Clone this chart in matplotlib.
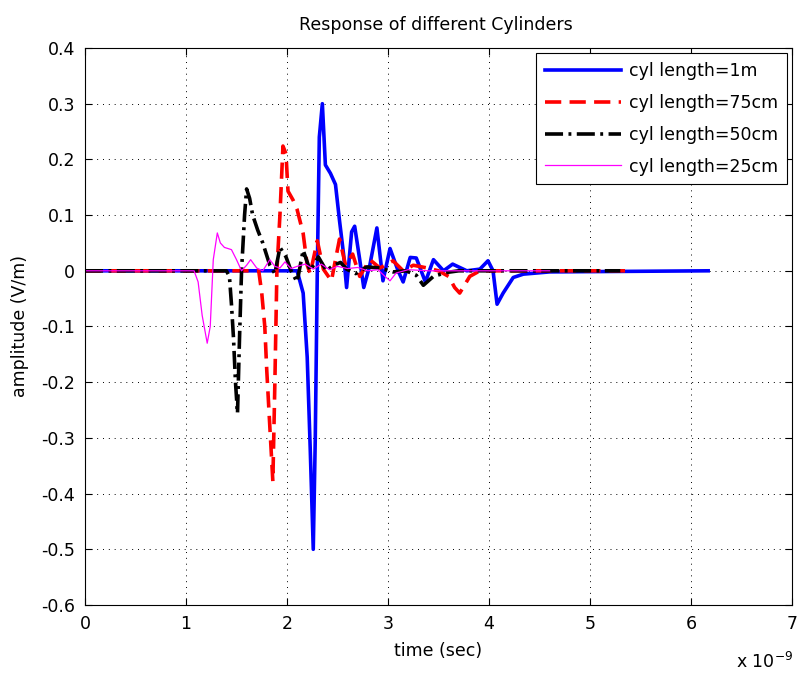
import numpy as np
import matplotlib.pyplot as plt

# time in ns (axis shown as x 10^-9 sec)
t_1m = [0, 2.10, 2.16, 2.20, 2.23, 2.26, 2.28, 2.30, 2.32, 2.35, 2.38, 2.43, 2.48,
        2.52, 2.56, 2.59, 2.64, 2.67, 2.72, 2.76, 2.82, 2.89, 2.95, 3.02, 3.10,
        3.15, 3.22, 3.28, 3.37, 3.45, 3.55, 3.64, 3.78, 3.91, 3.99, 4.04, 4.08,
        4.14, 4.24, 4.34, 4.60, 6.17]
a_1m = [0, 0, -0.04, -0.155, -0.32, -0.50, -0.30, 0.0, 0.24, 0.30, 0.19, 0.175,
        0.155, 0.09, 0.03, -0.03, 0.07, 0.08, 0.02, -0.03, 0.01, 0.077, -0.018,
        0.04, 0.0, -0.02, 0.024, 0.023, -0.02, 0.02, 0.0, 0.012, 0.0, 0.003,
        0.018, 0.0, -0.06, -0.04, -0.012, -0.006, -0.002, 0.0]

t_75 = [0, 1.72, 1.75, 1.78, 1.80, 1.83, 1.86, 1.88, 1.90, 1.93, 1.96, 1.99, 2.01,
        2.06, 2.10, 2.16, 2.20, 2.23, 2.30, 2.36, 2.44, 2.48, 2.52, 2.58, 2.65,
        2.72, 2.82, 2.92, 3.05, 3.15, 3.25, 3.39, 3.50, 3.60, 3.66, 3.71, 3.76,
        3.81, 3.91, 4.05, 5.40]
a_75 = [0, 0, -0.04, -0.10, -0.18, -0.28, -0.378, -0.2, 0.0, 0.1, 0.224, 0.21,
        0.143, 0.127, 0.11, 0.067, 0.01, -0.005, 0.054, 0.003, -0.018, 0.02,
        0.057, 0.01, 0.03, -0.01, 0.02, 0.005, 0.018, 0.0, 0.01, 0.005, 0.0,
        -0.01, -0.03, -0.04, -0.025, -0.01, 0.0, 0.0, 0.0]

t_50 = [0, 1.40, 1.43, 1.45, 1.47, 1.49, 1.51, 1.53, 1.55, 1.58, 1.60, 1.63, 1.66,
        1.71, 1.76, 1.83, 1.88, 1.93, 1.99, 2.04, 2.10, 2.16, 2.23, 2.31, 2.39,
        2.46, 2.53, 2.59, 2.68, 2.79, 2.92, 3.05, 3.18, 3.28, 3.35, 3.45, 3.58,
        3.70, 5.30]
a_50 = [0, 0, -0.01, -0.06, -0.12, -0.20, -0.256, -0.12, 0.0, 0.10, 0.147, 0.13,
        0.10, 0.073, 0.05, 0.01, -0.005, 0.042, 0.025, 0.0, -0.02, 0.037, 0.0,
        0.025, 0.0, 0.01, 0.015, 0.003, -0.005, 0.007, 0.005, -0.002, 0.0,
        -0.008, -0.026, -0.01, -0.003, 0.0, 0.0]

t_25 = [0, 1.08, 1.12, 1.16, 1.21, 1.24, 1.27, 1.31, 1.34, 1.38, 1.45, 1.50, 1.55,
        1.60, 1.64, 1.70, 1.76, 1.83, 1.88, 1.93, 1.98, 2.04, 2.10, 2.18, 2.26,
        2.34, 2.42, 2.50, 2.60, 2.70, 2.80, 2.90, 2.97, 3.02, 3.08, 3.20, 3.40,
        3.70, 4.60]
a_25 = [0, 0, -0.02, -0.08, -0.13, -0.10, 0.02, 0.068, 0.05, 0.042, 0.038, 0.02,
        0.0, 0.01, 0.02, 0.005, 0.0, 0.02, 0.008, 0.005, 0.016, 0.004, 0.008,
        0.012, 0.003, 0.012, 0.002, 0.008, 0.004, 0.006, 0.0, 0.002, -0.01,
        -0.018, -0.004, 0.002, 0.0, 0.0, 0.0]

labels = ['cyl length=1m', 'cyl length=75cm', 'cyl length=50cm', 'cyl length=25cm']
x_ticks = [0, 1, 2, 3, 4, 5, 6, 7]
y_ticks = [-0.6, -0.5, -0.4, -0.3, -0.2, -0.1, 0, 0.1, 0.2, 0.3, 0.4]
y_ticklabels = ['-0.6', '-0.5', '-0.4', '-0.3', '-0.2', '-0.1', '0',
                '0.1', '0.2', '0.3', '0.4']

plt.rcParams['font.family'] = ['DejaVu Sans']
fs = 12.5

W, H = 798, 675
fig = plt.figure(figsize=(W / 100, H / 100), dpi=100)
ax = fig.add_axes([85 / W, 1 - 605 / H, (792 - 85) / W, (605 - 48) / H])

ax.plot(t_1m, a_1m, color='blue', lw=2.6, label=labels[0])
ax.plot(t_75, a_75, color='red', lw=2.6, ls=(0, (4.5, 2.3)), label=labels[1])
ax.plot(t_50, a_50, color='black', lw=2.6, ls=(0, (5, 1.5, 0.8, 1.5)), label=labels[2])
ax.plot(t_25, a_25, color='magenta', lw=0.9, label=labels[3])

ax.set_xlim(0, 7)
ax.set_ylim(-0.6, 0.4)
ax.set_xticks(x_ticks)
ax.set_yticks(y_ticks)
ax.set_yticklabels(y_ticklabels)
ax.grid(True, color='black', ls=(0, (1, 5)), lw=0.7)
ax.tick_params(direction='in', top=True, right=True, length=5, width=0.8,
               labelsize=fs, pad=7)
for s in ax.spines.values():
    s.set_linewidth(0.8)

fig.text(436 / W, 1 - 25 / H, 'Response of different Cylinders', ha='center',
         va='center', fontsize=fs)
fig.text(438 / W, 1 - 651 / H, 'time (sec)', ha='center', va='center', fontsize=fs)
fig.text(20 / W, 1 - 326 / H, 'amplitude (V/m)', ha='center', va='center',
         rotation=90, fontsize=fs)
fig.text(793 / W, 1 - 668 / H, r'x 10$^{-9}$', ha='right', va='baseline',
         fontsize=fs)

leg = ax.legend(loc='upper right', fancybox=False, edgecolor='black',
                framealpha=1, handlelength=4.4, handletextpad=0.45,
                borderaxespad=0.3, labelspacing=0.8, borderpad=0.5, fontsize=fs)
leg.get_frame().set_linewidth(0.8)

fig.savefig('out.png', dpi=100)
